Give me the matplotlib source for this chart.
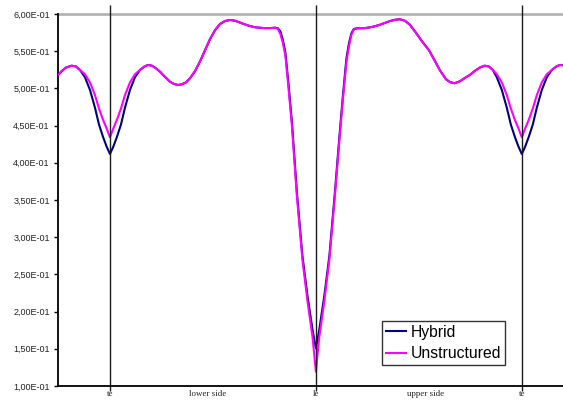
import matplotlib
matplotlib.use("Agg")
import matplotlib.pyplot as plt
from matplotlib.ticker import FuncFormatter, MultipleLocator

# surface station in percent: te = 0, le = 100, te = 200 (lower side, then upper side)
s = [-25.24, -23.30, -21.36, -18.59, -16.50, -14.56, -12.14, -9.71, -7.28, -5.34,
     -3.40, -1.60, 0.0, 1.60, 3.40, 5.34, 7.28, 9.71, 12.14, 14.56,
     16.50, 18.45, 20.39, 22.33, 24.27, 26.70, 29.13, 31.07, 33.01, 34.95,
     36.89, 38.83, 41.26, 43.69, 46.12, 48.54, 50.97, 53.40, 55.83, 58.25,
     60.68, 63.11, 65.53, 67.96, 70.39, 72.82, 75.24, 77.67, 80.10, 81.55,
     82.77, 83.98, 85.19, 86.65, 88.35, 90.78, 93.45, 95.87, 98.40, 100.0,
     101.60, 104.13, 106.55, 109.22, 111.41, 113.11, 114.81, 116.02, 117.23, 118.45,
     120.39, 123.79, 126.21, 128.64, 131.07, 133.50, 135.92, 138.35, 140.78, 143.20,
     145.63, 148.54, 151.46, 154.85, 157.77, 160.19, 163.11, 165.05, 167.33, 169.90,
     172.33, 174.76, 177.18, 179.61, 181.89, 183.98, 185.92, 187.86, 190.29, 192.72,
     194.66, 196.60, 198.40, 200.0, 201.60, 203.40, 205.34, 207.28, 209.71, 212.14,
     214.56, 216.50, 218.45, 219.90]

hybrid = [0.518, 0.5235, 0.528, 0.5305, 0.5295, 0.5247, 0.515, 0.4979, 0.474, 0.4515,
          0.435, 0.4216, 0.4118, 0.4216, 0.435, 0.4515, 0.474, 0.4979, 0.515, 0.5247,
          0.529, 0.5315, 0.5305, 0.527, 0.5225, 0.5155, 0.509, 0.506, 0.5046, 0.5055,
          0.508, 0.5135, 0.523, 0.536, 0.551, 0.566, 0.578, 0.5865, 0.5905, 0.592,
          0.591, 0.5885, 0.586, 0.5838, 0.5822, 0.5815, 0.581, 0.581, 0.5816, 0.5808,
          0.5765, 0.565, 0.548, 0.507, 0.455, 0.360, 0.275, 0.222, 0.175, 0.1506,
          0.175, 0.222, 0.275, 0.360, 0.435, 0.490, 0.540, 0.560, 0.574, 0.580,
          0.5808, 0.581, 0.582, 0.5835, 0.5855, 0.588, 0.5905, 0.5922, 0.5929, 0.591,
          0.5855, 0.575, 0.5635, 0.5516, 0.537, 0.5245, 0.5125, 0.5085, 0.5069, 0.5095,
          0.514, 0.518, 0.5235, 0.528, 0.5305, 0.5295, 0.5247, 0.515, 0.4979, 0.474,
          0.4515, 0.435, 0.4216, 0.4118, 0.4216, 0.435, 0.4515, 0.474, 0.4979, 0.515,
          0.5247, 0.529, 0.5315, 0.531]

unstructured = [0.518, 0.5235, 0.528, 0.5305, 0.5295, 0.5247, 0.519, 0.508, 0.491, 0.473,
                0.458, 0.446, 0.4343, 0.446, 0.458, 0.473, 0.491, 0.508, 0.519, 0.5247,
                0.529, 0.5315, 0.5305, 0.527, 0.5225, 0.5155, 0.509, 0.506, 0.5046, 0.5055,
                0.508, 0.5135, 0.523, 0.536, 0.551, 0.566, 0.578, 0.5865, 0.5905, 0.592,
                0.591, 0.5885, 0.586, 0.5838, 0.5822, 0.5815, 0.581, 0.581, 0.5816, 0.580,
                0.573, 0.561, 0.544, 0.502, 0.450, 0.355, 0.270, 0.215, 0.165, 0.1192,
                0.165, 0.215, 0.270, 0.355, 0.430, 0.485, 0.535, 0.556, 0.572, 0.5795,
                0.5808, 0.581, 0.582, 0.5835, 0.5855, 0.588, 0.5905, 0.5922, 0.5929, 0.591,
                0.5855, 0.575, 0.5635, 0.5516, 0.537, 0.5245, 0.5125, 0.5085, 0.5069, 0.5095,
                0.514, 0.518, 0.5235, 0.528, 0.5305, 0.5295, 0.5247, 0.519, 0.508, 0.491,
                0.473, 0.458, 0.446, 0.4343, 0.446, 0.458, 0.473, 0.491, 0.508, 0.519,
                0.5247, 0.529, 0.5315, 0.531]

marks = [0.0, 100.0, 200.0]
mark_labels = ['te', 'le', 'te']
side_pos = [47.6, 153.2]
side_labels = ['lower side', 'upper side']

fig = plt.figure(figsize=(5.63, 4.01), dpi=100)
ax = fig.add_axes([58/563, 15/401, 505/563, 372/401])

navy = '#000080'
pink = '#ff00ff'

ax.plot(s, hybrid, color=navy, lw=1.5, label='Hybrid', zorder=3)
ax.plot(s, unstructured, color=pink, lw=1.5, label='Unstructured', zorder=3)

ax.set_xlim(-25.24, 220.0)
ax.set_ylim(0.1, 0.6)

# te / le markers run slightly past the frame
ax.vlines(marks, 0.1 - 5/744, 0.6 + 9/744, color='#1a1a1a', lw=1.0,
          clip_on=False, zorder=4)

ax.yaxis.set_major_locator(MultipleLocator(0.05))
ax.yaxis.set_major_formatter(FuncFormatter(lambda v, p: f"{v:.2E}".replace('.', ',')))
ax.tick_params(axis='y', length=3, width=1, direction='out', pad=3,
               labelsize=6.5, labelcolor='#222222')
for t in ax.get_yticklabels():
    t.set_family('Liberation Sans')

ax.set_xticks([])
for x, lab in zip(marks + side_pos, mark_labels + side_labels):
    ax.text(x, 0.1 - 4/744, lab, ha='center', va='top', family='Liberation Serif',
            fontsize=6.4, color='#222222')

ax.spines['right'].set_visible(False)
ax.spines['top'].set_color('#b4b4b4')
ax.spines['top'].set_linewidth(2)
ax.spines['left'].set_linewidth(1.3)
ax.spines['bottom'].set_linewidth(1.3)
ax.spines['top'].set_zorder(1)

leg = ax.legend(loc='lower left', bbox_to_anchor=(0.641, 0.0565), frameon=True,
                fancybox=False, edgecolor='#333333', framealpha=1,
                prop={'family': 'Liberation Sans', 'size': 11.3},
                handlelength=1.3, handletextpad=0.3, borderpad=0.25,
                labelspacing=0.4, borderaxespad=0)
leg.get_frame().set_linewidth(1.0)

fig.savefig('out.png', dpi=100)
